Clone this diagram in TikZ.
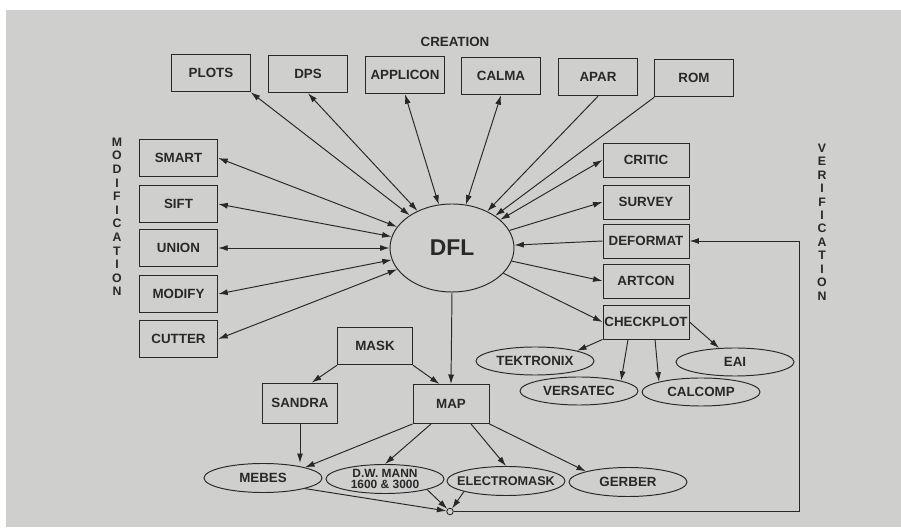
\documentclass[tikz,border=0pt]{standalone}
\usepackage{fontspec}
\setsansfont{Liberation Sans}
\usepackage{tikz}
\usetikzlibrary{arrows.meta,shapes.geometric}

\definecolor{paper}{RGB}{207,207,206}
\definecolor{ink}{RGB}{40,40,40}

\begin{document}
\begin{tikzpicture}[>={Latex[length=1.9mm,width=1.2mm]},
    every node/.style={font=\sffamily\bfseries\fontsize{7.6}{9}\selectfont, text=ink},
    prog/.style={draw=ink, line width=0.55pt, minimum width=1.57cm, minimum height=0.75cm, inner sep=0.5pt},
    check/.style={prog, minimum width=1.72cm, minimum height=0.68cm},
    device/.style={draw=ink, ellipse, line width=0.55pt, minimum width=2.36cm, minimum height=0.58cm, inner sep=0pt},
    letter/.style={font=\sffamily\bfseries\fontsize{7}{7}\selectfont, inner sep=0pt},
    link/.style={draw=ink, line width=0.55pt}]

    %% Background
    \useasboundingbox (0,0) rectangle (18.02,10.54);
    \fill[paper] (0.12,0) rectangle (18.02,10.34);

    % Data file
    \node[draw=ink, ellipse, line width=0.55pt, minimum width=2.48cm, minimum height=1.76cm,
          font=\sffamily\bfseries\fontsize{13}{14}\selectfont] (dfl) at (9.04,5.58) {DFL};

    % Creation
    \node (creation) at (9.10,9.70) {CREATION};
    \node[prog] (plots)    at (4.22,9.08) {PLOTS};
    \node[prog] (dps)      at (6.16,9.06) {DPS};
    \node[prog] (applicon) at (8.10,9.04) {APPLICON};
    \node[prog] (calma)    at (10.02,9.02) {CALMA};
    \node[prog] (apar)     at (11.96,9.00) {APAR};
    \node[prog] (rom)      at (13.88,8.98) {ROM};

    % Modification
    \node[prog] (smart)  at (3.57,7.38) {SMART};
    \node[prog] (sift)   at (3.57,6.46) {SIFT};
    \node[prog] (union)  at (3.57,5.58) {UNION};
    \node[prog] (modify) at (3.57,4.66) {MODIFY};
    \node[prog] (cutter) at (3.57,3.76) {CUTTER};
    \foreach \ch [count=\i] in {M,O,D,I,F,I,C,A,T,I,O,N}
    {
    \node[letter] (modl\i) at (2.34,{7.972-0.272*\i}) {\ch};
    }

    % Verification
    \node[check] (critic)    at (12.92,7.34) {CRITIC};
    \node[check] (survey)    at (12.92,6.50) {SURVEY};
    \node[check] (deformat)  at (12.92,5.72) {DEFORMAT};
    \node[check] (artcon)    at (12.92,4.92) {ARTCON};
    \node[check] (checkplot) at (12.92,4.10) {CHECKPLOT};
    \foreach \ch [count=\i] in {V,E,R,I,F,I,C,A,T,I,O,N}
    {
    \node[letter] (verl\i) at (16.44,{7.849-0.269*\i}) {\ch};
    }

    % Plotters
    \node[device, minimum height=0.56cm, label=center:TEKTRONIX] (tektronix) at (10.70,3.32) {};
    \node[device, minimum height=0.56cm, label=center:EAI]       (eai)       at (14.70,3.30) {};
    \node[device, minimum height=0.56cm, label=center:VERSATEC]  (versatec)  at (11.58,2.72) {};
    \node[device, minimum height=0.56cm, label=center:CALCOMP]   (calcomp)   at (14.02,2.70) {};

    % Mask making
    \node[prog, minimum width=1.50cm] (mask)   at (7.50,3.62) {MASK};
    \node[prog, minimum width=1.50cm, minimum height=0.80cm] (sandra) at (6.00,2.48) {SANDRA};
    \node[prog, minimum width=1.52cm, minimum height=0.78cm] (map)    at (9.02,2.46) {MAP};
    \node[device, label=center:MEBES] (mebes) at (5.26,0.98) {};
    \node[device, label={[align=center, font=\sffamily\bfseries\fontsize{6.8}{6.6}\selectfont]center:D.W. MANN\\1600 \& 3000}] (dwmann) at (7.70,0.96) {};
    \node[device, label={[font=\sffamily\bfseries\fontsize{7.2}{9}\selectfont]center:ELECTROMASK}] (electromask) at (10.12,0.92) {};
    \node[device, label=center:GERBER] (gerber) at (12.56,0.90) {};
    \node[draw=ink, circle, line width=0.5pt, minimum size=0.13cm, inner sep=0pt] (junction) at (9.00,0.31) {};
    \coordinate (loopx) at (15.98,0);

    % Connections to DFL
    \draw[link, <->] (plots.south east) -- (dfl);
    \draw[link, <->] (dps.south) -- (dfl);
    \draw[link, <->] (applicon.south) -- (dfl);
    \draw[link, <->] (calma.south) -- (dfl);
    \draw[link, ->] (apar.south) -- (dfl);
    \draw[link, ->] (rom.south west) -- (dfl);

    \foreach \prg in {smart,sift,union,modify,cutter}
    {
    \draw[link, <->] (\prg.east) -- (dfl);
    }

    \draw[link, <->] (critic.west) -- (dfl);
    \draw[link, <-] (survey.west) -- (dfl);
    \draw[link, ->] (deformat.west) -- (dfl);
    \draw[link, <-] (artcon.west) -- (dfl);
    \draw[link, <-] (checkplot.west) -- (dfl);

    % Plot outputs
    \draw[link, ->] (checkplot.south west) -- (tektronix.north east);
    \draw[link, ->] ([xshift=-0.36cm]checkplot.south) -- (versatec.north east);
    \draw[link, ->] ([xshift=0.18cm]checkplot.south) -- (calcomp.north west);
    \draw[link, ->] (checkplot.east) -- (eai);

    % Masks
    \draw[link, ->] (dfl.south) -- (map.north);
    \draw[link, ->] (mask.south west) -- (sandra.60);
    \draw[link, ->] (mask.south east) -- (map.120);
    \draw[link, ->] (sandra.south) -- (sandra.south |- mebes.north);
    \draw[link, ->] (map.south west) -- (mebes.north east);
    \draw[link, ->] (map.-135) -- (dwmann.north);
    \draw[link, ->] (map.-45) -- (electromask.north);
    \draw[link, ->] (map.south east) -- (gerber.north west);

    % Feedback loop
    \draw[link, ->] (mebes.south east) -- (junction);
    \draw[link, ->] (dwmann.south east) -- (junction);
    \draw[link, ->] (electromask.south west) -- (junction);
    \draw[link, ->] (junction.east) -- (junction.east -| loopx) |- (deformat.east);

\end{tikzpicture}
\end{document}
